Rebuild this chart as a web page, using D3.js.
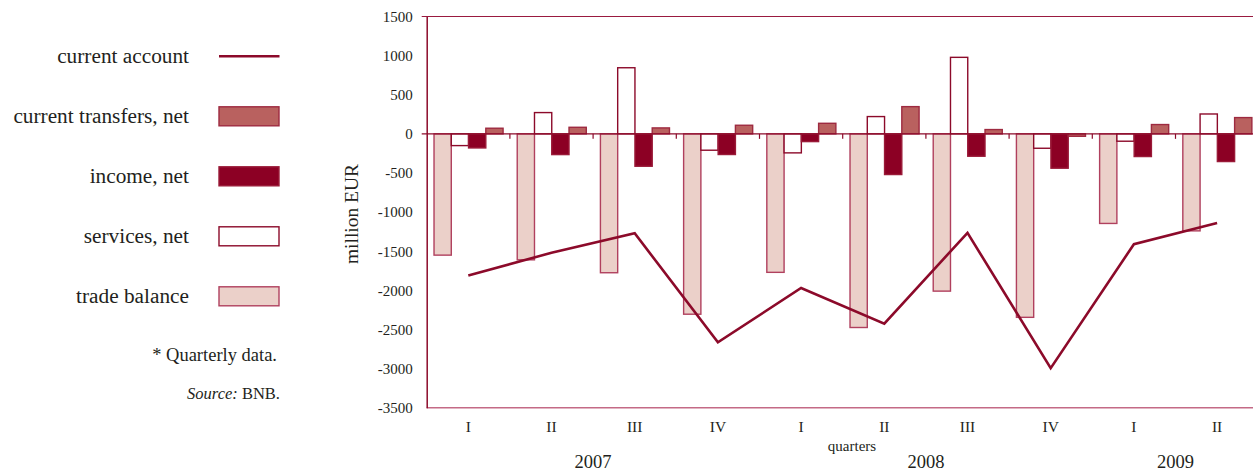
<!DOCTYPE html>
<html>
<head>
<meta charset="utf-8">
<script src="https://cdn.jsdelivr.net/npm/d3@7"></script>
<style>
  html, body { margin: 0; padding: 0; background: #fff; }
  svg { display: block; }
  text { font-family: "Liberation Serif", "Times New Roman", serif; fill: #231f20; }
</style>
</head>
<body>
<svg id="chart" width="1253" height="471"></svg>
<script>
// Bulgaria: balance of payments components, million EUR, quarterly
const quarters = ["I", "II", "III", "IV", "I", "II", "III", "IV", "I", "II"];
const quarterYears = ["2007", "2007", "2007", "2007", "2008", "2008", "2008", "2008", "2009", "2009"];
const tradeBalance = [-1550, -1610, -1775, -2305, -1770, -2475, -2010, -2345, -1145, -1240];
const servicesNet = [-150, 272, 845, -209, -243, 221, 978, -184, -94, 254];
const incomeNet = [-180, -265, -414, -264, -99, -520, -286, -439, -290, -354];
const transfersNet = [72, 84, 76, 110, 135, 348, 55, -31, 119, 208];
const currentAccount = [-1810, -1520, -1270, -2665, -1970, -2425, -1265, -2995, -1410, -1140];
const yTicks = [1500, 1000, 500, 0, -500, -1000, -1500, -2000, -2500, -3000, -3500];

const DARK = "#8c0a2a";
const SERIF = "'Liberation Serif', 'Times New Roman', serif";

const series = [
  { key: "trade", label: "trade balance", values: tradeBalance, fill: "#ebd0c9", stroke: "#b0405e" },
  { key: "services", label: "services, net", values: servicesNet, fill: "#ffffff", stroke: DARK },
  { key: "income", label: "income, net", values: incomeNet, fill: "#8c0024", stroke: "#9a1a38" },
  { key: "transfers", label: "current transfers, net", values: transfersNet, fill: "#b9615f", stroke: "#9e2a40" }
];

const svg = d3.select("#chart");

const plot = { left: 426.7, right: 1258.7, top: 16.5, bottom: 407.7 };
const idx = d3.range(quarters.length);

const x0 = d3.scaleBand().domain(idx).range([plot.left, plot.right]).padding(0);
const x1 = d3.scaleBand().domain(series.map(s => s.key))
  .range([x0.bandwidth() * 0.088, x0.bandwidth() * 0.918]).padding(0);
const y = d3.scaleLinear().domain([-3500, 1500]).range([plot.bottom, plot.top]);

// Frame: top border and axes
svg.append("line")
  .attr("x1", plot.left - 5).attr("x2", plot.right)
  .attr("y1", y(1500)).attr("y2", y(1500))
  .attr("stroke", "#9a1a40").attr("stroke-width", 1.2);
svg.append("line")
  .attr("x1", plot.left).attr("x2", plot.right)
  .attr("y1", plot.bottom).attr("y2", plot.bottom)
  .attr("stroke", "#c46a86").attr("stroke-width", 1.5);

// Y axis with tick labels only (plain hyphen for negatives)
const yAxis = d3.axisLeft(y).tickValues(yTicks).tickSize(0).tickPadding(14)
  .tickFormat(d => String(d));
const yg = svg.append("g").attr("transform", `translate(${plot.left},0)`).call(yAxis);
yg.select(".domain").attr("stroke", DARK).attr("stroke-width", 1.5);
yg.selectAll(".tick text")
  .attr("font-size", 15)
  .style("font-family", SERIF)
  .attr("fill", "#231f20");

// Bars
const groups = svg.append("g").selectAll("g")
  .data(idx).join("g")
  .attr("transform", i => `translate(${x0(i)},0)`);

groups.selectAll("rect")
  .data(i => series.map(s => ({ s, v: s.values[i] })))
  .join("rect")
  .attr("x", d => x1(d.s.key))
  .attr("width", x1.bandwidth())
  .attr("y", d => y(Math.max(0, d.v)))
  .attr("height", d => Math.abs(y(d.v) - y(0)))
  .attr("fill", d => d.s.fill)
  .attr("stroke", d => d.s.stroke)
  .attr("stroke-width", 1.4);

// Zero line with category separators
svg.append("line")
  .attr("x1", plot.left - 5).attr("x2", plot.right)
  .attr("y1", y(0)).attr("y2", y(0))
  .attr("stroke", DARK).attr("stroke-width", 1.3);
svg.append("g").selectAll("line")
  .data(idx.slice(1)).join("line")
  .attr("x1", i => x0(i)).attr("x2", i => x0(i))
  .attr("y1", y(0)).attr("y2", y(0) + 5)
  .attr("stroke", DARK).attr("stroke-width", 1.2);

// Current account line
const line = d3.line()
  .x((d, i) => x0(i) + x0.bandwidth() / 2)
  .y(d => y(d));
svg.append("path")
  .datum(currentAccount)
  .attr("d", line)
  .attr("fill", "none")
  .attr("stroke", DARK)
  .attr("stroke-width", 2.6)
  .attr("stroke-linejoin", "miter");

// Category labels
svg.append("g").selectAll("text")
  .data(idx).join("text")
  .attr("x", i => x0(i) + x0.bandwidth() / 2)
  .attr("y", 432)
  .attr("text-anchor", "middle")
  .attr("font-size", 15.5)
  .text(i => quarters[i]);

// Year labels centred under their quarters
const yearNames = Array.from(new Set(quarterYears));
svg.append("g").selectAll("text")
  .data(yearNames).join("text")
  .attr("x", yr => {
    const members = idx.filter(i => quarterYears[i] === yr);
    const a = x0(members[0]);
    const b = x0(members[members.length - 1]) + x0.bandwidth();
    return (a + b) / 2;
  })
  .attr("y", 467.5)
  .attr("text-anchor", "middle")
  .attr("font-size", 18.5)
  .text(yr => yr);

svg.append("text")
  .attr("x", 852).attr("y", 451)
  .attr("text-anchor", "middle")
  .attr("font-size", 15)
  .text("quarters");

svg.append("text")
  .attr("transform", "translate(358,214) rotate(-90)")
  .attr("text-anchor", "middle")
  .attr("font-size", 19.5)
  .text("million EUR");

// Legend
const legendRows = [
  { label: "current account", type: "line" },
  { label: "current transfers, net", s: series[3] },
  { label: "income, net", s: series[2] },
  { label: "services, net", s: series[1] },
  { label: "trade balance", s: series[0] }
];
const legend = svg.append("g").selectAll("g")
  .data(legendRows).join("g")
  .attr("transform", (d, i) => `translate(0,${56.3 + i * 60})`);
legend.append("text")
  .attr("x", 189).attr("y", 6.5)
  .attr("text-anchor", "end")
  .attr("font-size", 21.3)
  .text(d => d.label);
legend.filter(d => d.type === "line").append("line")
  .attr("x1", 219).attr("x2", 279.5)
  .attr("y1", 0).attr("y2", 0)
  .attr("stroke", DARK).attr("stroke-width", 2.6);
legend.filter(d => d.s).append("rect")
  .attr("x", 219).attr("y", -9.5)
  .attr("width", 60).attr("height", 19)
  .attr("fill", d => d.s.fill)
  .attr("stroke", d => d.s.stroke)
  .attr("stroke-width", 1.4);

// Notes
svg.append("text")
  .attr("x", 277).attr("y", 361)
  .attr("text-anchor", "end")
  .attr("font-size", 18.5)
  .text("* Quarterly data.");
const src = svg.append("text")
  .attr("x", 280).attr("y", 399)
  .attr("text-anchor", "end")
  .attr("font-size", 16.5);
src.append("tspan").attr("font-style", "italic").text("Source:");
src.append("tspan").text(" BNB.");
</script>
</body>
</html>
